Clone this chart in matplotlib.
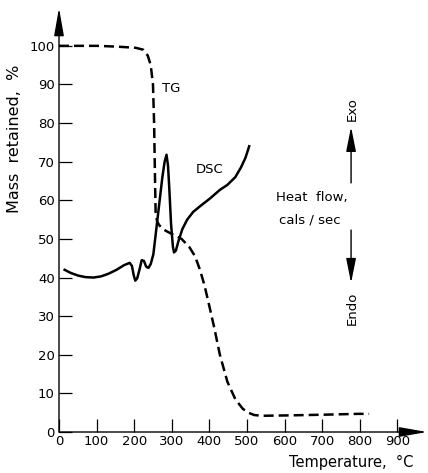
import numpy as np
import matplotlib.pyplot as plt

# TG curve: mass retained (%) vs temperature (°C)
tg_temp = [0, 51, 102, 153, 204, 224, 236, 244, 250, 253, 255, 257, 261, 267, 277,
           290, 306, 326, 346, 362, 375, 387, 399, 413, 428, 448, 469, 489, 504,
           519, 540, 611, 713, 795, 825]
tg_mass = [100, 100, 100, 99.8, 99.5, 99, 97.5, 95, 90, 80, 68, 57, 54.5, 53.5, 52.5,
           51.8, 51, 50, 48, 45.5, 42, 38, 33, 27, 20, 13, 8.5, 6, 5,
           4.4, 4.2, 4.3, 4.5, 4.7, 4.7]

# DSC trace, drawn on the same vertical scale
dsc_temp = [15, 31, 51, 71, 92, 112, 132, 153, 173, 188, 194, 199, 203, 208, 214,
            220, 226, 232, 238, 244, 251, 257, 263, 269, 275, 281, 286, 290, 294,
            298, 303, 306, 311, 318, 328, 341, 357, 377, 402, 428, 448, 469, 484,
            496, 506]
dsc_val = [42, 41.2, 40.5, 40.1, 40, 40.3, 41, 42, 43.2, 43.8, 43, 40.5, 39.2, 39.8, 42,
           44.5, 44.3, 42.8, 42.5, 43.5, 46, 51, 56, 61, 66, 70, 71.8, 69, 62,
           54, 48, 46.5, 47, 49.5, 52.5, 55, 57, 58.6, 60.5, 62.7, 64, 66, 68.5,
           71, 74]

xticks = [0, 100, 200, 300, 400, 500, 600, 700, 800, 900]
yticks = [0, 10, 20, 30, 40, 50, 60, 70, 80, 90, 100]

plt.rcParams['font.family'] = 'DejaVu Sans'
fig = plt.figure(figsize=(4.28, 4.73), dpi=100)
ax = fig.add_axes([59 / 428, 41 / 473, 368 / 428, 424 / 473])
ax.set_xlim(0, 979)
ax.set_ylim(0, 109.8)

ax.plot(tg_temp, tg_mass, color='k', lw=1.8, ls=(0, (4, 2)), solid_capstyle='butt')
ax.plot(dsc_temp, dsc_val, color='k', lw=1.8, solid_joinstyle='round')

# axes with arrow ends
for s in ax.spines.values():
    s.set_visible(False)
arrow_kw = dict(arrowstyle='-|>,head_length=1.7,head_width=0.3', color='k', lw=1.0,
                mutation_scale=10, shrinkA=0, shrinkB=0)
ax.annotate('', xy=(0, 1), xytext=(0, 0), xycoords='axes fraction', arrowprops=arrow_kw)
ax.annotate('', xy=(1, 0), xytext=(0, 0), xycoords='axes fraction', arrowprops=arrow_kw)

ax.set_xticks(xticks)
ax.set_yticks(yticks)
ax.tick_params(direction='in', length=9.5, width=0.9, labelsize=9.5, pad=3)
ax.tick_params(axis='x', pad=2)

ax.text(274, 89, 'TG', fontsize=9.5, ha='left', va='center')
ax.text(363, 68, 'DSC', fontsize=9.5, ha='left', va='center')

# heat flow direction indicator
ax.text(577, 60.6, 'Heat  flow,', fontsize=9.5, ha='left', va='center')
ax.text(584, 55.0, 'cals / sec', fontsize=9.5, ha='left', va='center')
head_kw = dict(arrowstyle='-|>,head_length=1.5,head_width=0.3', color='k', lw=1.0,
               mutation_scale=10, shrinkA=0, shrinkB=0)
ax.annotate('', xy=(777, 79), xytext=(777, 64.5), arrowprops=head_kw)
ax.annotate('', xy=(777, 38.6), xytext=(777, 52.3), arrowprops=head_kw)
ax.text(779, 80.6, 'Exo', fontsize=9.5, rotation=90, ha='center', va='bottom')
ax.text(779, 36.4, 'Endo', fontsize=9.5, rotation=90, ha='center', va='top')

fig.text(15 / 428, 1 - 139 / 473, 'Mass  retained,  %', fontsize=11.5, rotation=90,
         ha='center', va='center')
fig.text(413 / 428, 1 - 462 / 473, 'Temperature,  °C', fontsize=10.5, ha='right', va='center')

fig.savefig('out.png', dpi=100)
